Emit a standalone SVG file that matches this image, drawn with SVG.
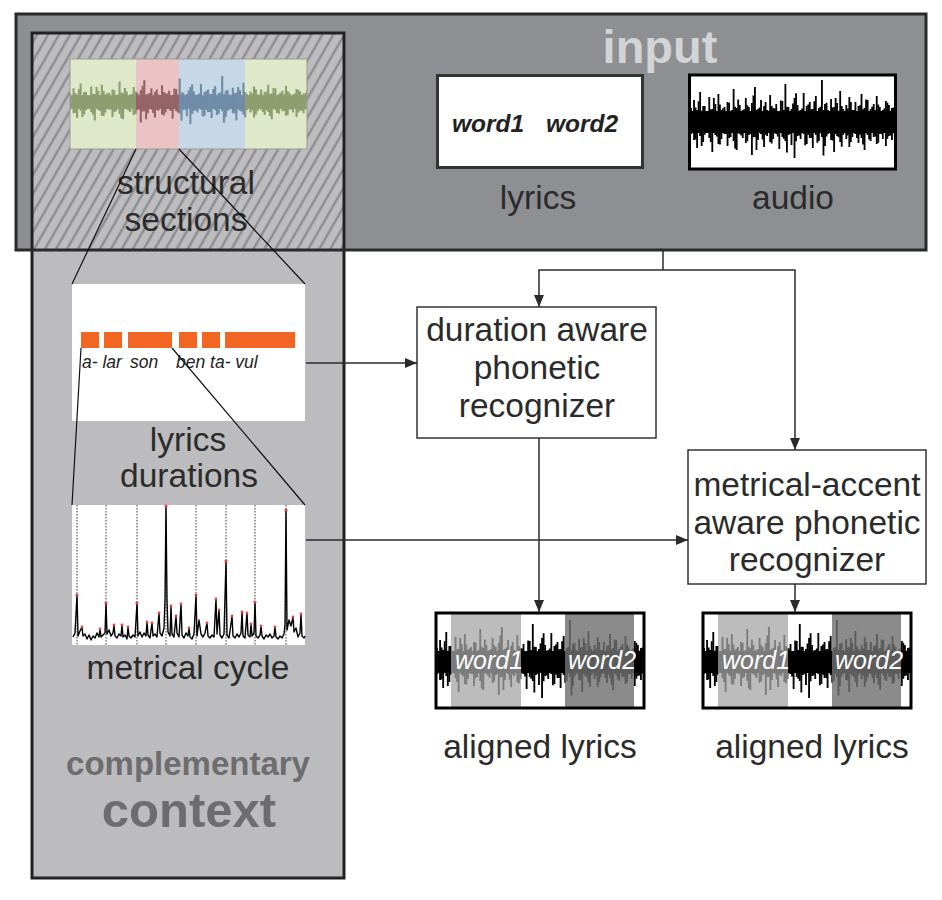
<svg xmlns="http://www.w3.org/2000/svg" xmlns:xlink="http://www.w3.org/1999/xlink" width="942" height="900" viewBox="0 0 942 900">
<style>
.t{font-family:"Liberation Sans",Arial,sans-serif;fill:#2b2b2b;font-size:33.5px;text-anchor:middle}
.conn{stroke:#2b2b2b;stroke-width:1.5;fill:none}
.zl{stroke:#111;stroke-width:1.2;fill:none}
.proc{fill:#fff;stroke:#333;stroke-width:1.5}
.wd{font-family:"Liberation Sans",Arial,sans-serif;font-style:italic;fill:#fff;font-size:25px}
.syl{font-family:"Liberation Sans",Arial,sans-serif;font-style:italic;fill:#222;font-size:17.5px}
.bar{fill:#f26522}
.beat{stroke:#222;stroke-width:0.9;stroke-dasharray:1.5 1.5}
.dot{fill:#e5404a}
</style>
<defs>
<marker id="ah" markerWidth="12" markerHeight="10" refX="12" refY="5" orient="auto" markerUnits="userSpaceOnUse"><path d="M0 0L12 5L0 10z" fill="#2b2b2b"/></marker>
<pattern id="hatch" width="9.5" height="10" patternUnits="userSpaceOnUse" patternTransform="rotate(30)">
<rect width="9.5" height="10" fill="#bdbdbf"/>
<line x1="2" y1="0" x2="2" y2="10" stroke="#8d8d91" stroke-width="2.4"/>
</pattern>
<path id="wp" stroke-width="1.8" d="M0-14V12M3-22V18M6-12V26M9-30V14M12-16V20M15-11V11M18-25V16M21-13V30M24-18V13M27-28V22M30-12V17M33-15V12M36-20V24M39-11V15M42-33V19M45-14V28M48-17V12M51-12V16M54-24V21M57-15V13M60-19V33M63-35V15M66-13V18M69-22V12M72-16V25M75-12V14M78-27V20M81-14V17M84-18V12M87-11V27M90-21V15M93-38V19M96-15V13M99-13V23M102-24V36M105-17V14M108-12V17M111-29V12M114-16V22M117-20V16M120-13V26M123-26V13M126-14V19M129-42V15M132-18V24M135-12V12M138-23V18M141-15V30M144-19V14M147-31V20M150-13V13M153-17V17M156-25V25M159-12V15M162-20V12M165-16V21M168-28V16M171-14V28M174-22V13M177-13V19M180-18V15M183-26V22M186-15V12M189-12V17M192-21V24M195-17V14M198-14V18M201-19V13"/>
<g id="wv">
<rect x="0" y="-11" width="202" height="22" stroke="none"/>
<use xlink:href="#wp"/>
<use xlink:href="#wp" transform="translate(1.5,0) scale(1,-0.8)"/>
</g>
<clipPath id="cOut"><rect x="0" y="0" width="15" height="95"/><rect x="85" y="0" width="44" height="95"/><rect x="198" y="0" width="10" height="95"/></clipPath>
<clipPath id="cW1"><rect x="15" y="0" width="70" height="95"/></clipPath>
<clipPath id="cW2"><rect x="129" y="0" width="69" height="95"/></clipPath>
<clipPath id="cAudio"><rect x="690" y="76" width="205" height="92"/></clipPath>
<clipPath id="sG"><rect x="70" y="59" width="66" height="90"/><rect x="245" y="59" width="62" height="90"/></clipPath>
<clipPath id="sP"><rect x="136" y="59" width="43" height="90"/></clipPath>
<clipPath id="sB"><rect x="179" y="59" width="66" height="90"/></clipPath>
<g id="aligned">
<rect x="0" y="0" width="208" height="95" fill="#fff"/>
<rect x="15" y="0" width="70" height="95" fill="#bcbcbc"/>
<rect x="129" y="0" width="69" height="95" fill="#8b8b8b"/>
<g clip-path="url(#cOut)"><use xlink:href="#wv" transform="translate(1,49) scale(1.03,1)" fill="#000" stroke="#000"/></g>
<g clip-path="url(#cW1)"><use xlink:href="#wv" transform="translate(1,49) scale(1.03,1)" fill="#7c7c7c" stroke="#7c7c7c"/></g>
<g clip-path="url(#cW2)"><use xlink:href="#wv" transform="translate(1,49) scale(1.03,1)" fill="#5c5c5c" stroke="#5c5c5c"/></g>
<text class="wd" x="19" y="56">word1</text>
<text class="wd" x="132" y="56">word2</text>
<rect x="0" y="0" width="208" height="95" fill="none" stroke="#000" stroke-width="3"/>
</g>
</defs>

<g id="input-box">
<rect x="16" y="14" width="910" height="236" fill="#8e8f93"/>
</g>

<g id="complementary-context">
<rect x="32" y="33" width="312" height="845" fill="#bcbcbe"/>
<rect x="32" y="33" width="312" height="217" fill="url(#hatch)"/>
<rect x="32" y="33" width="312" height="845" fill="none" stroke="#222" stroke-width="3"/>
<text class="t" x="188" y="775" style="font-weight:bold;font-size:33px;fill:#6d6d6f">complementary</text>
<text class="t" x="189" y="827" style="font-weight:bold;font-size:49px;fill:#6d6d6f">context</text>
</g>

<g id="input-frame">
<rect x="16" y="14" width="910" height="236" fill="none" stroke="#2a2a2a" stroke-width="3"/>
<text class="t" x="660" y="63" style="font-weight:bold;font-size:47px;fill:#d3d4d6">input</text>
</g>

<g id="structural-sections">
<rect x="70" y="59" width="66" height="90" fill="#dfe8c9"/>
<rect x="136" y="59" width="43" height="90" fill="#ebc3c4"/>
<rect x="179" y="59" width="66" height="90" fill="#c6d8e8"/>
<rect x="245" y="59" width="62" height="90" fill="#dfe8c9"/>
<g clip-path="url(#sG)"><use xlink:href="#wv" transform="translate(70,102) scale(1.18,0.62)" fill="#8f9e70" stroke="#8f9e70"/></g>
<g clip-path="url(#sP)"><use xlink:href="#wv" transform="translate(70,102) scale(1.18,0.62)" fill="#956467" stroke="#956467"/></g>
<g clip-path="url(#sB)"><use xlink:href="#wv" transform="translate(70,102) scale(1.18,0.62)" fill="#708ca8" stroke="#708ca8"/></g>
<rect x="70" y="59" width="237" height="90" fill="none" stroke="#999" stroke-width="1"/>
<text class="t" x="186" y="194">structural</text>
<text class="t" x="186" y="231">sections</text>
</g>

<g id="lyrics-input">
<rect x="437.5" y="75.5" width="205" height="92" fill="#fff" stroke="#333" stroke-width="3"/>
<text x="452" y="132" style="font-family:'Liberation Sans',Arial,sans-serif;font-weight:bold;font-style:italic;font-size:24.5px;fill:#222">word1</text>
<text x="546" y="132" style="font-family:'Liberation Sans',Arial,sans-serif;font-weight:bold;font-style:italic;font-size:24.5px;fill:#222">word2</text>
<text class="t" x="538" y="209">lyrics</text>
</g>

<g id="audio-input">
<rect x="689.5" y="75" width="206" height="94" fill="#fff"/>
<g clip-path="url(#cAudio)"><use xlink:href="#wv" transform="translate(691,122) scale(1.015,1)" fill="#000" stroke="#000"/></g>
<rect x="689.5" y="75" width="206" height="94" fill="none" stroke="#000" stroke-width="3"/>
<text class="t" x="793" y="209">audio</text>
</g>

<g id="lyrics-durations">
<rect x="72" y="284" width="233" height="137" fill="#fff"/>
<rect class="bar" x="81" y="332" width="18" height="16"/>
<rect class="bar" x="104" y="332" width="18" height="16"/>
<rect class="bar" x="128" y="332" width="44" height="16"/>
<rect class="bar" x="179" y="332" width="18" height="16"/>
<rect class="bar" x="202" y="332" width="18" height="16"/>
<rect class="bar" x="225" y="332" width="70" height="16"/>
<text class="syl" x="82" y="368">a- lar</text>
<text class="syl" x="130" y="368">son</text>
<text class="syl" x="176" y="368">ben ta- vul</text>
<text class="t" x="188" y="451">lyrics</text>
<text class="t" x="189" y="487">durations</text>
</g>

<g id="metrical-cycle">
<rect x="72" y="505" width="233" height="140" fill="#fff"/>
<g class="beat">
<line x1="77" y1="505" x2="77" y2="645"/><line x1="106" y1="505" x2="106" y2="645"/><line x1="137" y1="505" x2="137" y2="645"/><line x1="166" y1="505" x2="166" y2="645"/><line x1="196" y1="505" x2="196" y2="645"/><line x1="226" y1="505" x2="226" y2="645"/><line x1="255" y1="505" x2="255" y2="645"/><line x1="286" y1="505" x2="286" y2="645"/>
</g>
<polyline fill="none" stroke="#000" stroke-width="1.4" stroke-linejoin="round" points="73,637 75,633 77,595 78,636 80,631 82,627 83,636 85,634 87,639 89,635 91,640 93,636 95,638 97,633 99,637 100,629 101,637 103,635 105,633 106,603 107,634 109,630 111,636 113,633 114,625 115,636 117,638 119,634 121,636 122,625 123,637 125,635 127,639 128,627 129,636 131,638 133,635 135,637 137,603 138,636 140,632 142,637 144,633 146,636 147,622 148,635 150,638 152,623 153,636 155,634 157,637 159,613 160,633 162,636 164,628 165,600 166,506 167,600 168,632 170,636 171,606 172,634 174,637 176,616 177,633 179,637 181,604 182,635 184,638 186,633 188,636 189,628 190,637 192,639 194,634 196,595 197,636 199,620 201,634 203,637 205,633 207,623 208,636 210,638 212,635 214,637 216,599 217,634 219,610 220,635 222,638 224,634 226,561 227,635 229,638 230,631 232,616 233,636 235,638 237,634 239,637 241,633 242,612 243,636 245,638 247,613 248,635 250,637 251,624 252,636 254,633 255,602 256,636 258,638 260,635 261,626 262,636 264,639 266,635 268,637 270,634 272,638 274,636 275,627 276,637 278,639 280,636 282,638 284,634 285,625 286,510 287,630 289,620 291,626 293,617 294,632 296,628 298,637 300,633 301,614 302,636 304,638 305,636"/>
<g class="dot">
<circle cx="77" cy="595" r="1.6"/><circle cx="106" cy="603" r="1.6"/><circle cx="137" cy="603" r="1.6"/><circle cx="166" cy="506" r="1.6"/><circle cx="196" cy="595" r="1.6"/><circle cx="226" cy="561" r="1.6"/><circle cx="255" cy="602" r="1.6"/><circle cx="286" cy="510" r="1.6"/>
<circle cx="147" cy="622" r="1.4"/><circle cx="152" cy="623" r="1.4"/><circle cx="159" cy="613" r="1.4"/><circle cx="171" cy="606" r="1.4"/><circle cx="176" cy="616" r="1.4"/><circle cx="181" cy="604" r="1.4"/><circle cx="189" cy="628" r="1.4"/><circle cx="207" cy="623" r="1.4"/><circle cx="216" cy="599" r="1.4"/><circle cx="219" cy="610" r="1.4"/><circle cx="232" cy="616" r="1.4"/><circle cx="242" cy="612" r="1.4"/><circle cx="247" cy="613" r="1.4"/><circle cx="251" cy="624" r="1.4"/><circle cx="261" cy="626" r="1.4"/><circle cx="275" cy="627" r="1.4"/><circle cx="293" cy="617" r="1.4"/><circle cx="301" cy="614" r="1.4"/><circle cx="114" cy="625" r="1.4"/><circle cx="122" cy="625" r="1.4"/><circle cx="128" cy="627" r="1.4"/><circle cx="100" cy="629" r="1.4"/><circle cx="82" cy="627" r="1.4"/>
</g>
<text class="t" x="188" y="679">metrical cycle</text>
</g>

<g id="duration-recognizer">
<rect class="proc" x="417" y="307" width="239" height="131"/>
<text class="t" x="537" y="341">duration aware</text>
<text class="t" x="537" y="379">phonetic</text>
<text class="t" x="537" y="417">recognizer</text>
</g>

<g id="metrical-recognizer">
<rect class="proc" x="688" y="450" width="238" height="134"/>
<text class="t" x="807" y="496">metrical-accent</text>
<text class="t" x="807" y="534">aware phonetic</text>
<text class="t" x="807" y="571">recognizer</text>
</g>

<g id="aligned-lyrics-1">
<use xlink:href="#aligned" transform="translate(436,613)"/>
<text class="t" x="540" y="758">aligned lyrics</text>
</g>

<g id="aligned-lyrics-2">
<use xlink:href="#aligned" transform="translate(703,613)"/>
<text class="t" x="812" y="758">aligned lyrics</text>
</g>

<g id="connectors">
<path class="conn" d="M663 251V270"/>
<path class="conn" d="M663 270H539V307" marker-end="url(#ah)"/>
<path class="conn" d="M663 270H795V450" marker-end="url(#ah)"/>
<path class="conn" d="M306 363H417" marker-end="url(#ah)"/>
<path class="conn" d="M306 540H688" marker-end="url(#ah)"/>
<path class="conn" d="M539 438V612" marker-end="url(#ah)"/>
<path class="conn" d="M795 584V612" marker-end="url(#ah)"/>
<path class="zl" d="M136 149L72 284M179 149L305 284M81 348L72 505M172 348L305 505"/>
</g>
</svg>
